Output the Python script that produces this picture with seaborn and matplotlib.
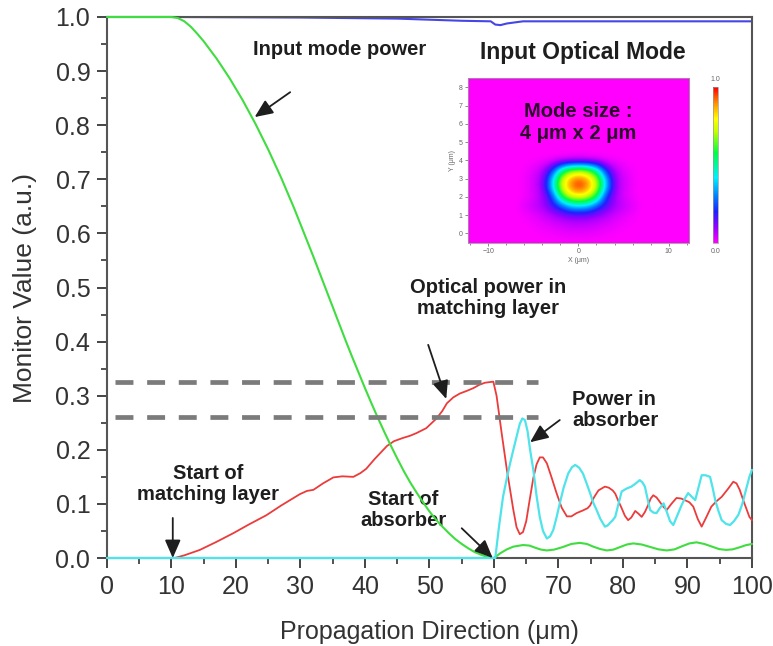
import numpy as np
import pandas as pd
import matplotlib
matplotlib.use("Agg")
import matplotlib.pyplot as plt
from matplotlib.colors import LinearSegmentedColormap
from matplotlib.ticker import MultipleLocator, FormatStrFormatter
import seaborn as sns

# ---------------- data ----------------
# Blue monitor (total power)
blue_x = [0, 10, 30, 45, 55, 59.5, 60.2, 61.0, 62.0, 64.5, 80, 100]
blue_y = [1.0, 1.0, 0.999, 0.997, 0.993, 0.992, 0.986, 0.985, 0.988, 0.992, 0.992, 0.992]

# Green: input mode power
green_x = [0, 10, 11, 12, 13, 14, 15, 16, 17, 18, 19, 20, 21, 22, 23, 24, 25, 26, 27, 28,
           29, 30, 31, 32, 33, 34, 35, 36, 37, 38, 39, 40, 41, 42, 43, 44, 45, 46, 47, 48,
           49, 50, 51, 52, 53, 54, 55, 56, 57, 58, 59, 60,
           61, 62, 63, 64.5, 65.5, 66.4, 67.3, 68.2, 69.3, 70.6, 72, 73.3, 74.4, 75.4, 76.5,
           77.5, 78.5, 79.6, 80.6, 81.6, 82.9, 84.2, 85.5, 86.8, 88, 89.1, 90.3, 91.4,
           92.6, 93.7, 94.9, 96, 97, 98, 99, 100]
green_y = [1.0, 1.0, 0.998, 0.992, 0.982, 0.969, 0.955, 0.939, 0.923, 0.905, 0.887, 0.867,
           0.847, 0.825, 0.803, 0.779, 0.755, 0.729, 0.703, 0.675, 0.647, 0.617, 0.587,
           0.557, 0.526, 0.495, 0.464, 0.433, 0.402, 0.372, 0.343, 0.314, 0.286, 0.259,
           0.233, 0.208, 0.184, 0.161, 0.14, 0.121, 0.103, 0.086, 0.071, 0.058, 0.046,
           0.035, 0.026, 0.018, 0.011, 0.006, 0.002, 0.0,
           0.009, 0.016, 0.021, 0.024, 0.023, 0.019, 0.0155, 0.014, 0.0155, 0.02, 0.026,
           0.028, 0.026, 0.021, 0.0165, 0.014, 0.0155, 0.0205, 0.025, 0.027, 0.025, 0.0205,
           0.016, 0.014, 0.016, 0.0215, 0.027, 0.029, 0.026, 0.0215, 0.0165, 0.015, 0.016,
           0.0195, 0.0235, 0.026]

# Red: optical power in matching layer
red_x = [0, 10.5, 12, 14.4, 17, 19.6, 22, 24.7, 27, 29.9, 31, 32, 33.5, 35.1, 36.5, 38.2,
         39.3, 40.2, 41.5, 43.4, 44.5, 45.9, 47, 48, 49.5, 51.1, 52, 52.7, 53.7, 54.7, 55.8,
         56.8, 57.7, 58.6, 59.9, 60.4, 61.2, 62, 63, 63.5, 64, 64.5, 65, 65.5, 66.1, 66.6,
         67.1, 67.6, 68.2, 68.9, 69.7, 70.5, 71.3, 72, 72.8, 73.8, 74.5, 74.9, 75.5, 76.2,
         77.2, 77.8, 78.4, 78.8, 79.3, 79.8, 80.3, 80.8, 81.3, 81.9, 82.4, 82.9, 83.4, 83.9,
         84.3, 84.7, 85.2, 85.7, 86.3, 86.8, 87.5, 88.3, 89, 89.6, 90.3, 90.9, 91.6, 92.2,
         92.9, 93.7, 94.5, 95.3, 96.3, 97.1, 97.6, 98.1, 98.7, 99.2, 99.6, 100]
red_y = [0.0, 0.0, 0.005, 0.015, 0.03, 0.046, 0.062, 0.079, 0.097, 0.118, 0.124, 0.126,
         0.138, 0.149, 0.151, 0.15, 0.157, 0.165, 0.183, 0.207, 0.216, 0.222, 0.226, 0.231,
         0.24, 0.258, 0.272, 0.286, 0.297, 0.304, 0.309, 0.314, 0.32, 0.324, 0.326, 0.30,
         0.23, 0.163, 0.089, 0.057, 0.044, 0.048, 0.068, 0.105, 0.148, 0.173, 0.186, 0.186,
         0.175, 0.15, 0.12, 0.093, 0.077, 0.077, 0.083, 0.088, 0.092, 0.097, 0.112, 0.125,
         0.132, 0.13, 0.125, 0.119, 0.105, 0.092, 0.078, 0.07, 0.075, 0.087, 0.082, 0.076,
         0.085, 0.098, 0.11, 0.116, 0.112, 0.104, 0.094, 0.089, 0.1, 0.111, 0.11, 0.107,
         0.103, 0.095, 0.072, 0.058, 0.075, 0.095, 0.105, 0.113, 0.128, 0.141, 0.138, 0.126,
         0.105, 0.089, 0.076, 0.07]

# Cyan: power in absorber
cyan_x = [0, 60, 60.2, 60.8, 61.4, 62, 62.5, 63, 63.5, 64, 64.4, 64.8, 65.2, 65.6, 66.1,
          66.6, 67.1, 67.6, 68.2, 68.7, 69.2, 69.7, 70.2, 70.8, 71.5, 72.1, 72.6, 73.2, 73.8,
          74.3, 74.9, 75.4, 75.9, 76.5, 77.2, 77.6, 78, 78.4, 78.8, 79.3, 79.8, 80.5, 81.3,
          82, 82.6, 83, 83.4, 83.8, 84.2, 84.7, 85.2, 85.7, 86.3, 86.8, 87.3, 87.8, 88.4,
          89.1, 89.6, 90.1, 90.6, 91.2, 91.7, 92.2, 92.8, 93.5, 93.9, 94.3, 94.8, 95.3, 96,
          96.6, 97.2, 97.9, 98.5, 99.2, 99.6, 100]
cyan_y = [0.0, 0.0, 0.0, 0.06, 0.113, 0.148, 0.175, 0.2, 0.224, 0.248, 0.258, 0.255, 0.235,
          0.2, 0.163, 0.115, 0.076, 0.05, 0.036, 0.04, 0.052, 0.075, 0.101, 0.13, 0.156,
          0.168, 0.172, 0.167, 0.156, 0.14, 0.12, 0.102, 0.089, 0.072, 0.058, 0.06, 0.065,
          0.07, 0.076, 0.1, 0.123, 0.128, 0.132, 0.138, 0.144, 0.14, 0.132, 0.11, 0.089,
          0.084, 0.083, 0.092, 0.101, 0.085, 0.068, 0.061, 0.078, 0.098, 0.11, 0.12, 0.114,
          0.107, 0.13, 0.153, 0.153, 0.15, 0.13, 0.107, 0.087, 0.07, 0.063, 0.061, 0.068,
          0.08, 0.1, 0.132, 0.15, 0.163]

# Reference levels (dashed)
dash_levels = [0.326, 0.261]
dash_span = [1.2, 66.8]

# Inset mode profile: rows y = 0.0 .. 4.5 (step 0.5), cols x = -6 .. 6 (step 1)
mode_core = [
    [0.000, 0.001, 0.006, 0.010, 0.019, 0.024, 0.025, 0.024, 0.019, 0.010, 0.006, 0.001, 0.000],
    [0.003, 0.009, 0.022, 0.034, 0.045, 0.056, 0.060, 0.056, 0.045, 0.034, 0.022, 0.009, 0.003],
    [0.009, 0.025, 0.044, 0.073, 0.100, 0.125, 0.130, 0.125, 0.100, 0.073, 0.044, 0.025, 0.009],
    [0.029, 0.054, 0.087, 0.160, 0.260, 0.390, 0.420, 0.390, 0.260, 0.160, 0.087, 0.054, 0.029],
    [0.008, 0.032, 0.080, 0.210, 0.570, 0.740, 0.790, 0.740, 0.570, 0.210, 0.080, 0.032, 0.008],
    [0.010, 0.040, 0.100, 0.387, 0.720, 0.905, 0.980, 0.905, 0.720, 0.387, 0.100, 0.040, 0.010],
    [0.010, 0.039, 0.096, 0.360, 0.700, 0.875, 0.940, 0.875, 0.700, 0.360, 0.096, 0.039, 0.010],
    [0.006, 0.024, 0.062, 0.180, 0.450, 0.610, 0.650, 0.610, 0.450, 0.180, 0.062, 0.024, 0.006],
    [0.000, 0.003, 0.006, 0.010, 0.020, 0.030, 0.032, 0.030, 0.020, 0.010, 0.006, 0.003, 0.000],
    [0.000, 0.000, 0.000, 0.000, 0.000, 0.000, 0.000, 0.000, 0.000, 0.000, 0.000, 0.000, 0.000],
]

# ---------------- style ----------------
sns.set_style("ticks")
plt.rcParams['font.family'] = ['Liberation Sans', 'DejaVu Sans']

fig = plt.figure(figsize=(7.73, 6.46), dpi=100)
ax = fig.add_axes([0.1384, 0.1362, 0.8344, 0.8375])

C_BLUE = '#4646e6'
C_GREEN = '#3fdd3f'
C_RED = '#ec3b3b'
C_CYAN = '#4fe3ea'

def draw(xs, ys, color, lw, z):
    df = pd.DataFrame({'x': xs, 'y': ys})
    sns.lineplot(data=df, x='x', y='y', ax=ax, color=color, lw=lw, estimator=None,
                 sort=False, zorder=z, clip_on=False)

draw(blue_x, blue_y, C_BLUE, 1.5, 2)
draw(red_x, red_y, C_RED, 1.3, 3)
draw(green_x, green_y, C_GREEN, 1.5, 4)
draw(cyan_x, cyan_y, C_CYAN, 1.6, 5)

ax.hlines(dash_levels, dash_span[0], dash_span[1], colors='#7b7b7b', linewidth=3.4,
          linestyles=[(0, (3.8, 2.9))], zorder=6)

ax.set_xlim(0, 100)
ax.set_ylim(0, 1.0)
ax.xaxis.set_major_locator(MultipleLocator(10))
ax.xaxis.set_minor_locator(MultipleLocator(5))
ax.yaxis.set_major_locator(MultipleLocator(0.1))
ax.yaxis.set_minor_locator(MultipleLocator(0.05))
ax.yaxis.set_major_formatter(FormatStrFormatter('%.1f'))
ax.tick_params(which='major', direction='out', length=7, width=1.4, color='#444',
               labelsize=18, labelcolor='#333', pad=5)
ax.tick_params(which='minor', direction='out', length=4, width=1.3, color='#444')
for s in ax.spines.values():
    s.set_color('#555')
    s.set_linewidth(1.5)

ax.set_xlabel('Propagation Direction (μm)', fontsize=18, color='#333')
ax.set_ylabel('Monitor Value (a.u.)', fontsize=19, color='#333')
ax.xaxis.set_label_coords(0.5, -0.115)
ax.yaxis.set_label_coords(-0.108, 0.5)

# ---------------- annotations ----------------
TXT = dict(fontsize=14.5, fontweight='bold', color='#1e1e1e')
ax.text(36.1, 0.939, 'Input mode power', ha='center', va='center', **TXT)
ax.text(59.1, 0.481, 'Optical power in\nmatching layer', ha='center', va='center',
        linespacing=1.15, **TXT)
ax.text(72.1, 0.274, 'Power in\nabsorber', ha='left', va='center', linespacing=1.15, **TXT)
ax.text(15.7, 0.137, 'Start of\nmatching layer', ha='center', va='center',
        linespacing=1.15, **TXT)
ax.text(45.9, 0.089, 'Start of\nabsorber', ha='center', va='center', linespacing=1.15, **TXT)

ARW = dict(arrowstyle='-|>,head_length=0.55,head_width=0.24', color='#1e1e1e', lw=1.3,
           shrinkA=0, shrinkB=0, mutation_scale=20)
arrows = [((28.4, 0.861), (22.9, 0.815)),
          ((49.8, 0.394), (52.6, 0.294)),
          ((70.2, 0.255), (65.6, 0.214)),
          ((10.2, 0.074), (10.2, 0.0)),
          ((55.0, 0.055), (59.8, 0.0))]
for tail, head in arrows:
    ax.annotate('', xy=head, xytext=tail, arrowprops=ARW, annotation_clip=False, zorder=8)

fig.text(0.754, 0.9195, 'Input Optical Mode', ha='center', va='center', fontsize=16.5,
         fontweight='bold', color='#1e1e1e')

# ---------------- inset: input optical mode ----------------
field = np.zeros((19, 25))
field[1:11, 6:19] = np.array(mode_core)

cmap = LinearSegmentedColormap.from_list('mode', [
    (0.0, '#ff00ff'), (0.1, '#9400ff'), (0.2, '#2020ff'), (0.3, '#0080ff'),
    (0.42, '#00f0ff'), (0.58, '#00ff40'), (0.72, '#c8ff00'), (0.8, '#ffff00'),
    (0.9, '#ff9000'), (1.0, '#ff0000')])

ax_in = fig.add_axes([0.605, 0.6234, 0.2867, 0.2554])
im = ax_in.imshow(field, origin='lower', extent=[-12.5, 12.5, -0.75, 8.75], cmap=cmap,
                  vmin=0, vmax=1, aspect='auto', interpolation='bicubic',
                  interpolation_stage='data')
ax_in.set_xlim(-12.3, 12.3)
ax_in.set_ylim(-0.55, 8.5)
ax_in.set_xticks([-10, 0, 10])
ax_in.xaxis.set_minor_locator(MultipleLocator(2))
ax_in.set_yticks(range(0, 9))
ax_in.tick_params(which='both', direction='out', length=2, width=0.6, color='#777',
                  labelsize=5, labelcolor='#666', pad=1.5)
ax_in.tick_params(which='minor', length=1.2)
for s in ax_in.spines.values():
    s.set_color('#999')
    s.set_linewidth(0.6)
ax_in.set_xlabel('X (μm)', fontsize=5, color='#666', labelpad=1)
ax_in.set_ylabel('Y (μm)', fontsize=5, color='#666', labelpad=2)
ax_in.text(0, 6.1, 'Mode size :\n4 μm x 2 μm', ha='center', va='center', fontsize=14.5,
           fontweight='bold', color='#2a062a', linespacing=1.2)

cax = fig.add_axes([0.9224, 0.6238, 0.0065, 0.241])
cb = fig.colorbar(im, cax=cax)
cb.set_ticks([])
cb.outline.set_linewidth(0.5)
cb.outline.set_edgecolor('#999')
cax.text(0.5, 1.03, '1.0', transform=cax.transAxes, ha='center', va='bottom', fontsize=5,
         color='#666')
cax.text(0.5, -0.03, '0.0', transform=cax.transAxes, ha='center', va='top', fontsize=5,
         color='#666')

fig.savefig('out.png', dpi=100)
